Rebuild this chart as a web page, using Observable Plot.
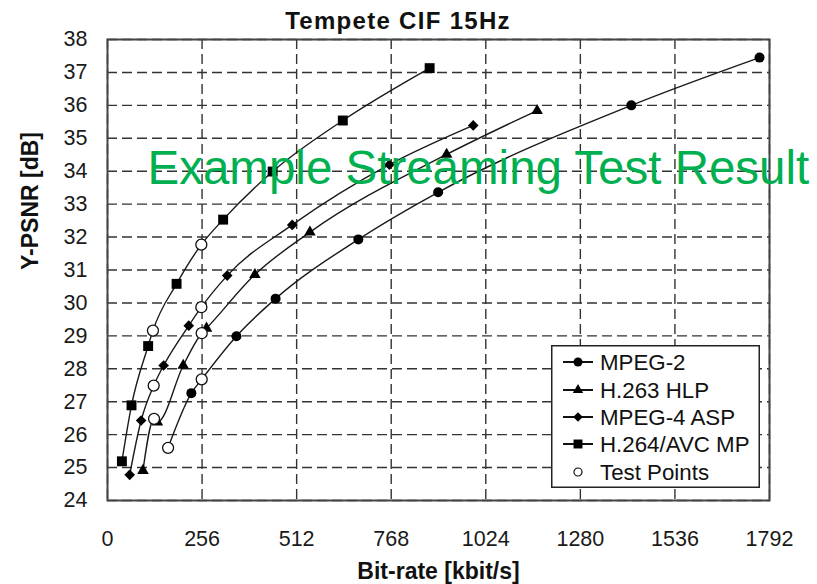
<!DOCTYPE html>
<html><head><meta charset="utf-8">
<script src="https://cdn.jsdelivr.net/npm/d3@7"></script>
<script src="https://cdn.jsdelivr.net/npm/@observablehq/plot@0.6"></script>
<style>
body{margin:0;background:#fff;}
#wrap{position:relative;width:817px;height:584px;overflow:hidden;font-family:"Liberation Sans",Arial,sans-serif;}
#title{position:absolute;left:0;top:9px;width:796px;text-align:center;font-weight:bold;font-size:24px;line-height:24px;letter-spacing:1.3px;color:#111;}
#legend{position:absolute;left:551px;top:345px;}
</style></head><body><div id="wrap"><div id="title">Tempete CIF 15Hz</div></div>
<script>
const chartTitle = "Tempete CIF 15Hz";
const xLabel = "Bit-rate [kbit/s]";
const yLabel = "Y-PSNR [dB]";
const watermark = "Example Streaming Test Result";
const xTicks = [0, 256, 512, 768, 1024, 1280, 1536, 1792];
const yTicks = [24, 25, 26, 27, 28, 29, 30, 31, 32, 33, 34, 35, 36, 37, 38];
const codecs = ["MPEG-2", "H.263 HLP", "MPEG-4 ASP", "H.264/AVC MP"];
const testLabel = "Test Points";

const mpeg2Rate = [227, 349, 455, 679, 895, 1418, 1765];
const mpeg2Psnr = [27.26, 28.99, 30.13, 31.93, 33.36, 36.00, 37.45];
const h263Rate = [96, 135, 205, 268, 399, 548, 918, 1163];
const h263Psnr = [24.91, 26.38, 28.10, 29.23, 30.86, 32.15, 34.51, 35.84];
const mpeg4Rate = [60, 91, 152, 220, 324, 500, 763, 990];
const mpeg4Psnr = [24.78, 26.43, 28.10, 29.31, 30.83, 32.37, 34.20, 35.39];
const h264Rate = [39, 65, 110, 187, 313, 447, 637, 872];
const h264Psnr = [25.19, 26.89, 28.69, 30.58, 32.53, 33.99, 35.54, 37.13];

const testCodec = ["MPEG-2", "MPEG-2", "H.263 HLP", "H.263 HLP", "MPEG-4 ASP", "MPEG-4 ASP", "H.264/AVC MP", "H.264/AVC MP"];
const testRate = [164, 255, 126, 255, 125, 254, 123, 254];
const testPsnr = [25.60, 27.68, 26.48, 29.08, 27.49, 29.87, 29.16, 31.77];

// ---- build tables ----
const rates = [mpeg2Rate, h263Rate, mpeg4Rate, h264Rate];
const psnrs = [mpeg2Psnr, h263Psnr, mpeg4Psnr, h264Psnr];
const points = codecs.flatMap((c, k) => rates[k].map((r, i) => ({codec: c, rate: r, psnr: psnrs[k][i]})));
const tests = testCodec.map((c, i) => ({codec: c, rate: testRate[i], psnr: testPsnr[i]}));
const lineData = points.concat(tests).sort((a, b) => d3.ascending(codecs.indexOf(a.codec), codecs.indexOf(b.codec)) || d3.ascending(a.rate, b.rate));

const symStyle = {
  "MPEG-2": {symbol: "circle", r: 5},
  "H.263 HLP": {symbol: "triangle", r: 4.3},
  "MPEG-4 ASP": {symbol: "diamond2", r: 4.8},
  "H.264/AVC MP": {symbol: "square", r: 5.6}
};

const font = '"Liberation Sans", Arial, sans-serif';
const gridStyle = {stroke: "#333", strokeOpacity: 1, strokeDasharray: "10,5", strokeWidth: 1.4};

const chart = Plot.plot({
  width: 817, height: 584,
  marginLeft: 107, marginRight: 48, marginTop: 39, marginBottom: 84,
  x: {domain: [0, 1792]},
  y: {domain: [24, 38]},
  style: {fontFamily: font, fontSize: "21.5px", color: "#1a1a1a", background: "white"},
  marks: [
    Plot.gridX(xTicks, gridStyle),
    Plot.gridY(yTicks, gridStyle),
    Plot.axisX(xTicks, {tickSize: 0, tickPadding: 30, label: null, tickFormat: d => String(d), fontSize: 21.5}),
    Plot.axisY(yTicks, {tickSize: 0, tickPadding: 20, label: null, tickFormat: d => String(d), fontSize: 21.5}),
    Plot.frame({stroke: "#444", strokeWidth: 2}),
    Plot.line(lineData, {x: "rate", y: "psnr", z: "codec", curve: "monotone-x", stroke: "#1a1a1a", strokeWidth: 1.4}),
    ...codecs.map(c => Plot.dot(points.filter(d => d.codec === c), {
      x: "rate", y: "psnr", symbol: symStyle[c].symbol, r: symStyle[c].r, fill: "#000", stroke: "none"
    })),
    Plot.dot(tests, {x: "rate", y: "psnr", r: 5.5, fill: "white", stroke: "#111", strokeWidth: 1.3}),
    Plot.text([yLabel], {text: d => d, frameAnchor: "left", dx: -77, rotate: -90, fontWeight: "bold", fontSize: 23, fill: "#111"}),
    Plot.text([xLabel], {text: d => d, frameAnchor: "bottom", dy: 78, fontWeight: "bold", fontSize: 23, fill: "#111"}),
    Plot.text([watermark], {text: d => d, frameAnchor: "top-left", dx: 40, dy: 144, lineAnchor: "bottom", textAnchor: "start", fontSize: 47.5, fill: "#00b050"})
  ]
});
const wrap = document.getElementById("wrap");
wrap.insertBefore(chart, wrap.firstChild);

// ---- legend ----
const lg = d3.create("svg").attr("id", "legend").attr("width", 210).attr("height", 144);
lg.append("rect").attr("x", 0.75).attr("y", 0.75).attr("width", 207.5).attr("height", 141.5)
  .attr("fill", "white").attr("stroke", "#222").attr("stroke-width", 1.5);
const legSym = {"circle": d3.symbolCircle, "triangle": d3.symbolTriangle, "diamond2": d3.symbolDiamond2, "square": d3.symbolSquare};
const rowsY = [17, 45, 72, 99, 127];
codecs.forEach((c, i) => {
  const g = lg.append("g").attr("transform", `translate(0,${rowsY[i]})`);
  g.append("line").attr("x1", 12).attr("x2", 42).attr("stroke", "#111").attr("stroke-width", 2);
  const s = symStyle[c];
  g.append("path").attr("transform", "translate(27,0)")
    .attr("d", d3.symbol(legSym[s.symbol], Math.PI * (s.r * 0.9) ** 2)()).attr("fill", "#000");
  g.append("text").attr("x", 49).attr("dy", "0.35em").attr("font-family", font).attr("font-size", 22.3).attr("fill", "#111").text(c);
});
{
  const g = lg.append("g").attr("transform", `translate(0,${rowsY[4]})`);
  g.append("circle").attr("cx", 27).attr("r", 4).attr("fill", "white").attr("stroke", "#111").attr("stroke-width", 1.2);
  g.append("text").attr("x", 49).attr("dy", "0.35em").attr("font-family", font).attr("font-size", 22.3).attr("fill", "#111").text(testLabel);
}
wrap.appendChild(lg.node());
</script>
</body></html>
